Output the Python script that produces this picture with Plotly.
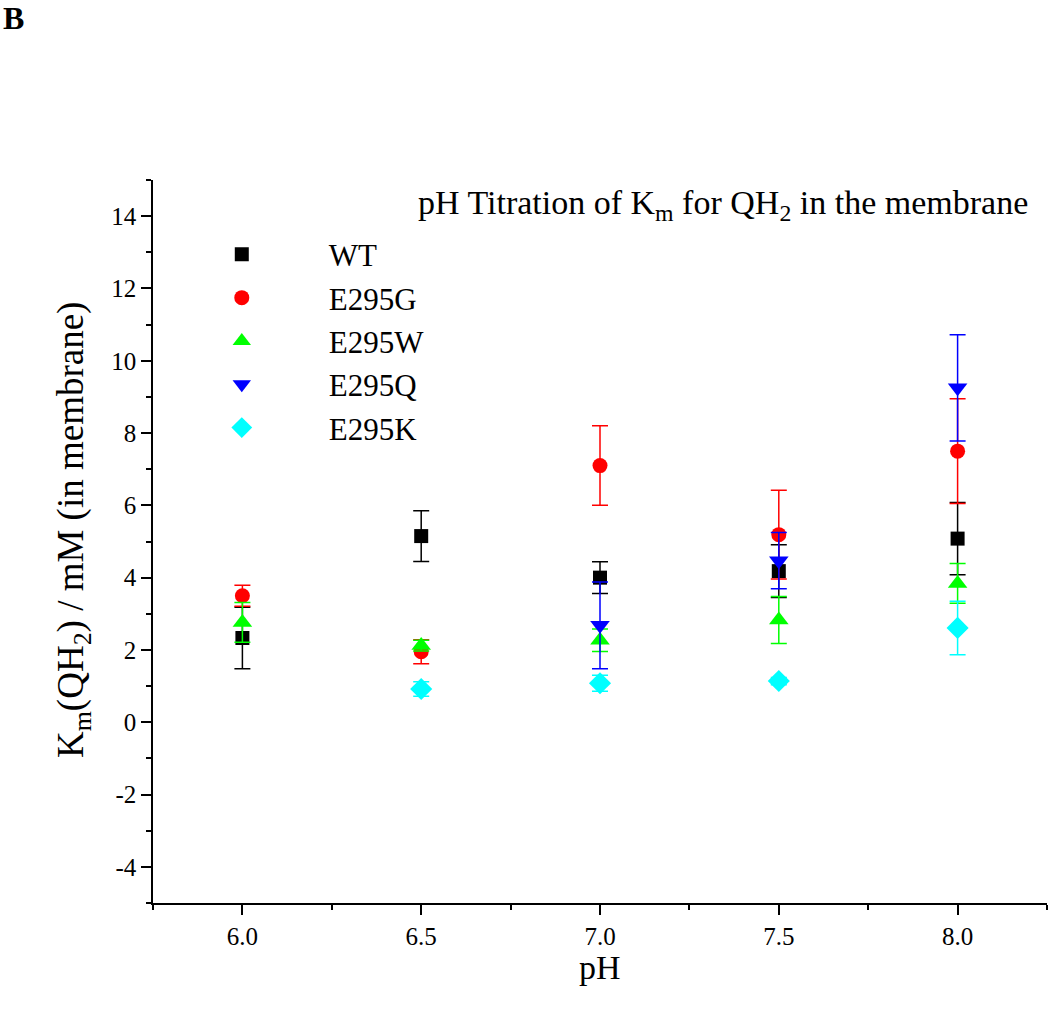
import plotly.graph_objects as go

series_names = ["WT", "E295G", "E295W", "E295Q", "E295K"]

wt_ph = [6.0, 6.5, 7.0, 7.5, 8.0]
wt_km = [2.33, 5.15, 4.00, 4.18, 5.08]
wt_err = [0.85, 0.70, 0.44, 0.73, 1.00]

g_ph = [6.0, 6.5, 7.0, 7.5, 8.0]
g_km = [3.50, 1.95, 7.10, 5.19, 7.50]
g_err = [0.29, 0.33, 1.10, 1.23, 1.45]

w_ph = [6.0, 6.5, 7.0, 7.5, 8.0]
w_km = [2.76, 2.12, 2.27, 2.83, 3.84]
w_err = [0.55, 0.15, 0.31, 0.65, 0.55]

q_ph = [7.0, 7.5, 8.0]
q_km = [2.68, 4.47, 9.25]
q_err = [1.20, 0.78, 1.47]

k_ph = [6.5, 7.0, 7.5, 8.0]
k_km = [0.92, 1.08, 1.14, 2.61]
k_err = [0.20, 0.22, 0.10, 0.74]

x_tick_vals = [6.0, 6.5, 7.0, 7.5, 8.0]
x_tick_labels = ["6.0", "6.5", "7.0", "7.5", "8.0"]
y_tick_vals = [-4, -2, 0, 2, 4, 6, 8, 10, 12, 14]
y_tick_labels = ["-4", "-2", "0", "2", "4", "6", "8", "10", "12", "14"]

colors = ["#000000", "#ff0000", "#00ff00", "#0000ff", "#00ffff"]
symbols = ["square", "circle", "triangle-up", "triangle-down", "diamond"]
sizes = [14, 15, 17, 17, 17]

FONT = "Liberation Serif, Times New Roman, serif"

data = [
    (wt_ph, wt_km, wt_err),
    (g_ph, g_km, g_err),
    (w_ph, w_km, w_err),
    (q_ph, q_km, q_err),
    (k_ph, k_km, k_err),
]

fig = go.Figure()
for i, (xs, ys, es) in enumerate(data):
    fig.add_trace(go.Scatter(
        x=xs, y=ys, mode="markers", name=series_names[i],
        legendgroup=series_names[i],
        marker=dict(symbol=symbols[i], color=colors[i], size=sizes[i]),
        error_y=dict(type="data", array=es, visible=True, color=colors[i],
                     thickness=1.5, width=8),
    ))

fig.update_layout(
    width=1050, height=1010,
    paper_bgcolor="white", plot_bgcolor="white",
    margin=dict(l=153, r=3, t=180, b=107),
    font=dict(family=FONT, color="black", size=24),
    showlegend=True,
    legend=dict(
        x=0.002, y=0.934, xanchor="left", yanchor="top",
        font=dict(family=FONT, size=31, color="black"),
        bgcolor="rgba(0,0,0,0)", itemwidth=164, tracegroupgap=0,
    ),
)

fig.update_xaxes(
    range=[5.75, 8.25], tickmode="array", tickvals=x_tick_vals, ticktext=x_tick_labels,
    ticks="outside", ticklen=10, tickwidth=1.5, tickcolor="black",
    showline=True, linecolor="black", linewidth=1.5, showgrid=False,
    zeroline=False, tickfont=dict(family=FONT, size=25, color="black"),
    minor=dict(dtick=0.25, tick0=6.0, ticks="outside", ticklen=5, tickwidth=1.5, tickcolor="black"),
)
fig.update_yaxes(
    range=[-5, 15], tickmode="array", tickvals=y_tick_vals, ticktext=y_tick_labels,
    ticks="outside", ticklen=10, tickwidth=1.5, tickcolor="black",
    showline=True, linecolor="black", linewidth=1.5, showgrid=False,
    zeroline=False, tickfont=dict(family=FONT, size=25, color="black"),
    minor=dict(dtick=1, tick0=0, ticks="outside", ticklen=5, tickwidth=1.5, tickcolor="black"),
)

fig.add_annotation(
    text="pH Titration of K<sub>m</sub> for QH<sub>2</sub> in the membrane",
    xref="paper", yref="paper", x=(1030 - 153) / 894, y=(903 - 205) / 723,
    xanchor="right", yanchor="middle", showarrow=False,
    font=dict(family=FONT, size=34, color="black"),
)
fig.add_annotation(
    text="K<sub>m</sub>(QH<sub>2</sub>) / mM (in membrane)",
    xref="paper", yref="paper", x=0, y=(903 - 530) / 723,
    xanchor="center", yanchor="middle", xshift=-80, textangle=-90,
    showarrow=False, font=dict(family=FONT, size=37, color="black"),
)
fig.add_annotation(
    text="pH", xref="paper", yref="paper", x=0.5, y=0,
    xanchor="center", yanchor="middle", yshift=-64, showarrow=False,
    font=dict(family=FONT, size=34, color="black"),
)
fig.add_annotation(
    text="<b>B</b>", xref="paper", yref="paper", x=0, y=1,
    xanchor="left", yanchor="middle", xshift=-152, yshift=162, showarrow=False,
    font=dict(family=FONT, size=32, color="black"),
)

fig.write_html("out.html", config={"displayModeBar": False},
               post_script="document.body.style.margin='0';")
